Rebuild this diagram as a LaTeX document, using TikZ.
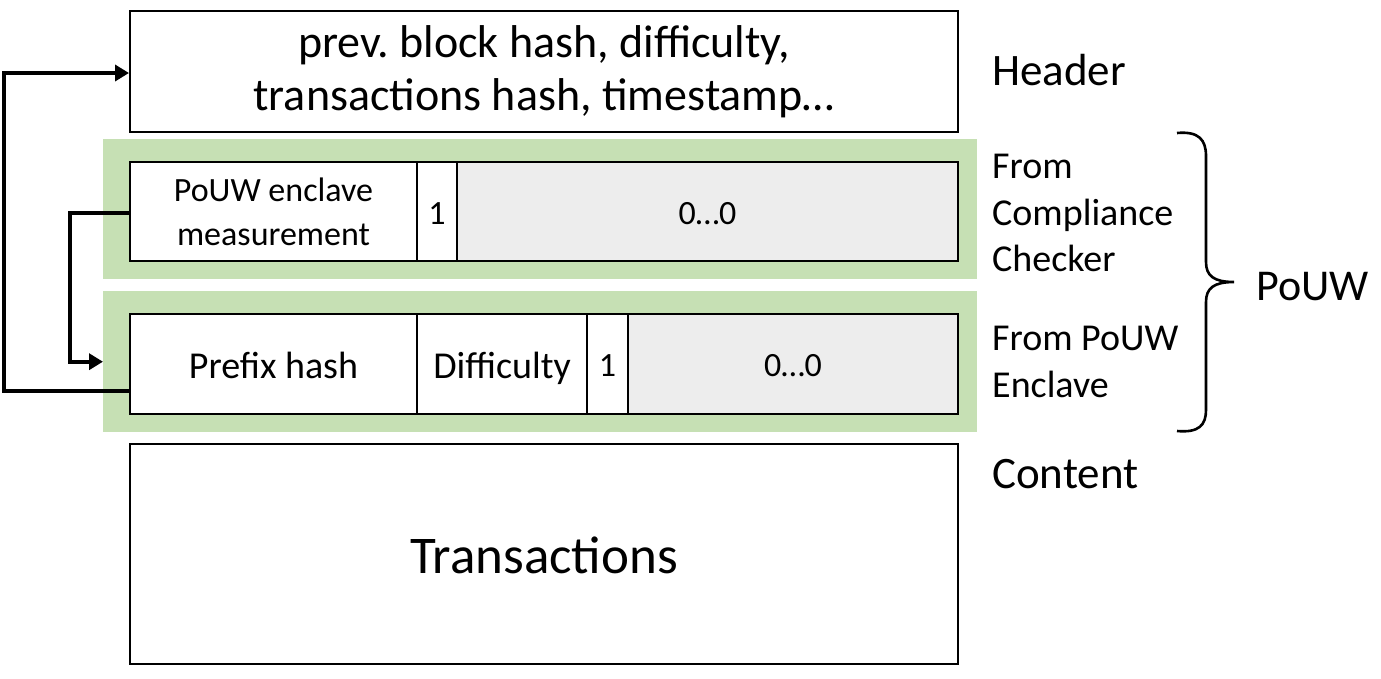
\documentclass[tikz,border=0pt]{standalone}
\usepackage{fontspec}
\setmainfont{Carlito}
\frenchspacing
\usetikzlibrary{arrows.meta,calc}
\definecolor{bandgreen}{HTML}{C6E0B4}
\definecolor{cellgray}{HTML}{EDEDED}
\newcommand{\cellstrut}{\rule[-0.26em]{0pt}{1.26em}}
\tikzset{
  box/.style={draw=black, line width=2pt, fill=white, anchor=north west, inner sep=0pt},
  cell/.style={box, align=center},
  onecell/.style={box, execute at begin node=\cellstrut},
  graycell/.style={onecell, fill=cellgray},
  band/.style={fill=bandgreen, draw=none, anchor=north west, inner sep=0pt},
  conn/.style={line width=3.6pt, -{Triangle[length=14pt,width=16pt]}},
  lbl/.style={anchor=west, inner sep=0pt, align=left},
  fs34/.style={font=\fontsize{34}{44}\selectfont},
  fs38/.style={font=\fontsize{38}{46.5}\selectfont},
  fs46/.style={font=\fontsize{46}{53}\selectfont},
}
\begin{document}
\begin{tikzpicture}[x=1pt,y=-1pt]
\useasboundingbox (0,0) rectangle (1381,678);
% green bands
\node[band, minimum width=874pt, minimum height=140pt] (g1) at (103,139) {};
\node[band, minimum width=874pt, minimum height=141pt] (g2) at (103,291) {};
% header
\node[cell, fs46, minimum width=828pt, minimum height=121pt] (hdr) at (129,10) {prev. block hash, difficulty,\\transactions hash, timestamp\ldots};
% row 1
\node[cell, fs34, minimum width=287pt, minimum height=99pt] (m1) at (129,161) {PoUW enclave\\measurement};
\node[onecell, fs34, minimum width=40pt, minimum height=99pt] (o1) at (416,161) {1};
\node[graycell, fs34, minimum width=501pt, minimum height=99pt] (z1) at (456,161) {0\ldots0};
% row 2
\node[onecell, fs38, minimum width=287pt, minimum height=100pt] (ph) at (129,313) {Prefix hash};
\node[onecell, fs38, minimum width=170pt, minimum height=100pt] (df) at (416,313) {Difficulty};
\node[onecell, fs34, minimum width=41pt, minimum height=100pt] (o2) at (586,313) {1};
\node[graycell, fs34, minimum width=330pt, minimum height=100pt] (z2) at (627,313) {0\ldots0};
% content
\node[onecell, font=\fontsize{53}{60}\selectfont, minimum width=828pt, minimum height=220pt] (ct) at (129,443) {Transactions};
% connectors
\draw[conn] ([yshift=-27pt]ph.west) -- ++(-125,0) |- ([yshift=-1.5pt]hdr.west);
\draw[conn] ([yshift=-1.5pt]m1.west) -- ++(-59,0) |- (g2.west);
% labels
\node[lbl, font=\fontsize{45}{53}\selectfont] (lh) at (992,70) {Header};
\node[lbl, fs38] (lc) at (992,213) {From\\Compliance\\Checker};
\node[lbl, fs38] (le) at (992,362) {From PoUW\\Enclave};
\node[lbl, font=\fontsize{45}{53}\selectfont] (lct) at (992,474) {Content};
\node[lbl, font=\fontsize{44}{53}\selectfont] (lp) at (1256,287) {PoUW};
% brace
\draw[line width=2.6pt] (1177,133) .. controls (1199,131) and (1206,140) .. (1206,156) -- (1206,262)
  .. controls (1206,276) and (1214,282) .. (1234,282)
  .. controls (1214,282) and (1206,288) .. (1206,302) -- (1206,410)
  .. controls (1206,425) and (1199,433) .. (1177,431);
\end{tikzpicture}
\end{document}
